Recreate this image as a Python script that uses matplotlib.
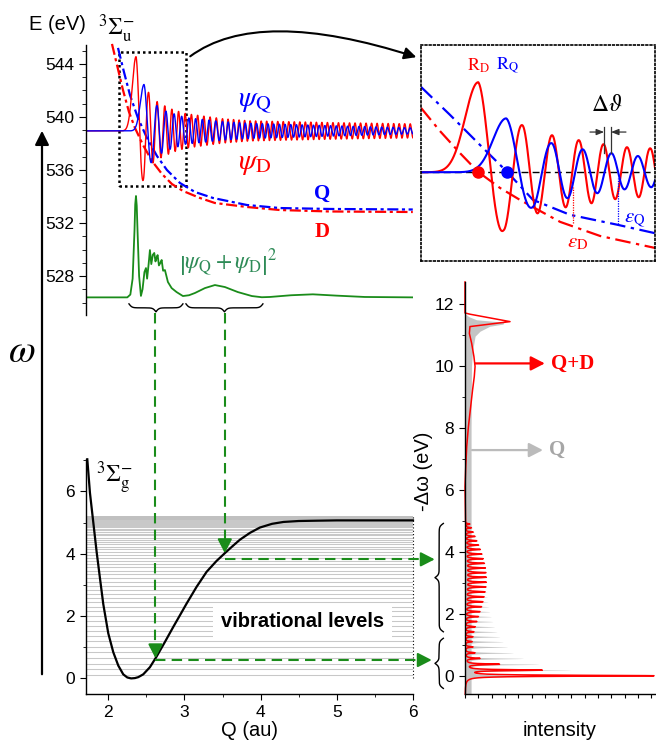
import numpy as np
import matplotlib.pyplot as plt
from matplotlib.patches import FancyArrowPatch, Rectangle
from matplotlib.ticker import MultipleLocator

plt.rcParams['font.family'] = ['Liberation Sans', 'DejaVu Sans']
plt.rcParams['mathtext.fontset'] = 'stix'
plt.rcParams['font.size'] = 12.5
plt.rcParams['axes.linewidth'] = 1.0

RED = '#ff0000'
BLUE = '#0000ff'
GREEN = '#1a8c1a'
GREEN_TXT = '#2e8b57'
GREY = '#c4c4c4'
SERIF = ['Liberation Serif', 'DejaVu Serif']

# ---------------- core-excited state 3Sigma_u (Q in au, E in eV) ----------------
E_RES = 538.95                      # energy of the resonance line
potD_q = [2.049, 2.115, 2.193, 2.272, 2.351, 2.456, 2.574, 2.705, 2.836, 2.980,
          3.203, 3.400, 3.819, 4.252, 4.908, 5.997]
potD_e = [545.51, 543.92, 542.04, 540.38, 539.17, 537.89, 536.68, 535.70, 534.94,
          534.42, 533.89, 533.51, 533.21, 532.98, 532.87, 532.83]
potQ_q = [2.128, 2.206, 2.285, 2.390, 2.508, 2.639, 2.770, 2.941, 3.138, 3.374,
          3.819, 4.252, 4.908, 5.997]
potQ_e = [545.21, 543.40, 541.66, 539.92, 538.42, 537.06, 536.00, 535.02, 534.34,
          533.89, 533.36, 533.13, 533.06, 533.02]

# wave packets: positions of successive extrema (n = number of half periods)
psiD_n = [0, 1, 2, 3, 4, 5, 6, 7, 8, 9, 10, 11, 12, 24, 93]
psiD_q = [2.365, 2.460, 2.530, 2.588, 2.642, 2.693, 2.742, 2.790, 2.835, 2.879,
          2.923, 2.967, 3.010, 3.500, 6.000]
psiQ_n = [0, 1, 2, 3, 4, 5, 6, 7, 8, 9, 20, 87]
psiQ_q = [2.470, 2.568, 2.640, 2.700, 2.757, 2.812, 2.865, 2.914, 2.964, 3.014,
          3.500, 6.000]
# amplitude envelopes (eV) in the main panel
psiD_env_q = [2.365, 2.460, 2.530, 2.590, 2.700, 2.850, 3.020, 3.500, 3.860, 5.000, 6.000]
psiD_env_a = [5.60, 3.70, 2.90, 2.40, 2.00, 1.60, 1.30, 0.92, 0.76, 0.62, 0.53]
psiQ_env_q = [2.470, 2.570, 2.640, 2.750, 3.020, 3.500, 3.860, 5.000, 6.000]
psiQ_env_a = [3.50, 2.35, 1.90, 1.50, 1.00, 0.70, 0.57, 0.38, 0.23]
# amplitude envelopes in the zoomed inset (at the extrema)
psiD_in_env_a = [4.21, 2.71, 2.20, 1.92, 1.73, 1.64, 1.50, 1.45, 1.31, 1.26, 1.17, 1.17, 1.12]
psiQ_in_env_a = [2.52, 1.64, 1.36, 1.21, 1.07, 0.98, 0.89, 0.80, 0.76, 0.70]

# potentials as drawn in the inset
epsD_q = [2.150, 2.221, 2.296, 2.364, 2.446, 2.521, 2.585, 2.672, 2.822, 3.028]
epsD_e = [541.96, 540.88, 539.85, 538.97, 538.22, 537.66, 537.22, 536.63, 535.97, 535.41]
epsQ_q = [2.150, 2.259, 2.371, 2.473, 2.570, 2.709, 2.885, 3.028]
epsQ_e = [542.94, 541.63, 540.23, 538.97, 537.66, 536.96, 536.50, 536.10]
turn_q = [2.364, 2.473]             # R_D, R_Q
mark_q = [2.720, 2.889]             # dotted markers down to eps_D, eps_Q
mark_lo = [536.60, 536.52]
mark_hi = [538.25, 538.68]
dtheta_q = [2.837, 2.863]

# |psi_Q + psi_D|^2
green_q = [1.708, 2.250, 2.290, 2.320, 2.345, 2.354, 2.364, 2.374, 2.385, 2.405, 2.429,
           2.450, 2.475, 2.495, 2.510, 2.530, 2.547, 2.565, 2.585, 2.604, 2.620, 2.635,
           2.648, 2.665, 2.685, 2.701, 2.720, 2.744, 2.783, 2.832, 2.897, 2.980, 3.060,
           3.138, 3.269, 3.400, 3.531, 3.701, 3.885, 4.016, 4.121, 4.400, 4.685, 5.000,
           5.367, 6.000]
green_e = [526.39, 526.39, 526.60, 527.80, 531.50, 533.40, 534.04, 533.30, 531.30, 528.00,
           526.50, 527.00, 528.30, 528.60, 527.80, 528.90, 529.96, 528.90, 529.60, 529.74,
           529.10, 529.40, 529.58, 528.80, 529.00, 529.21, 528.40, 528.45, 527.55, 527.09,
           526.79, 526.49, 526.55, 526.72, 527.09, 527.32, 527.17, 526.79, 526.49, 526.40,
           526.42, 526.55, 526.62, 526.52, 526.42, 526.39]

# ---------------- ground state 3Sigma_g ----------------
morse_q = [1.725, 1.760, 1.804, 1.848, 1.892, 1.935, 2.000, 2.066, 2.132, 2.197, 2.250,
           2.300, 2.350, 2.394, 2.459, 2.547, 2.634, 2.744, 2.853, 2.963, 3.028, 3.160,
           3.291, 3.422, 3.531, 3.630, 3.728, 3.860, 3.990, 4.150, 4.300, 4.500, 4.730,
           5.000, 5.500, 6.000]
morse_e = [7.03, 5.95, 5.00, 4.05, 3.20, 2.38, 1.45, 0.84, 0.41, 0.13, 0.03, 0.00, 0.01,
           0.04, 0.13, 0.36, 0.70, 1.17, 1.65, 2.12, 2.40, 2.94, 3.42, 3.77, 4.02, 4.24,
           4.45, 4.67, 4.84, 4.96, 5.02, 5.05, 5.06, 5.07, 5.07, 5.07]
vib_levels = [0.0975, 0.2896, 0.4780, 0.6626, 0.8435, 1.0206, 1.1939, 1.3635, 1.5293,
              1.6914, 1.8497, 2.0042, 2.1550, 2.3020, 2.4453, 2.5848, 2.7205, 2.8525,
              2.9807, 3.1052, 3.2259, 3.3428, 3.4560, 3.5654, 3.6711, 3.7730, 3.8711,
              3.9655, 4.0561, 4.1430, 4.2261, 4.3054, 4.3810, 4.4528, 4.5209, 4.5852,
              4.6457, 4.7025, 4.7555, 4.8048, 4.8503, 4.8920, 4.9300, 4.9642, 4.9947,
              5.0214, 5.0443, 5.0635, 5.0789, 5.0906, 5.0985, 5.1027]
arrow_q = [2.62, 3.53]              # green arrows from the two braces
arrow_level = [0.59, 3.82]
arrow_end_q = [6.246, 6.285]

# ---------------- RIXS spectra (energy loss in eV, intensity in arb. units) ----------------
spec_e = [0.00, 0.18, 0.37, 0.56, 0.74, 0.93, 1.10, 1.26, 1.42, 1.58, 1.75, 1.91, 2.07,
          2.23, 2.39, 2.55, 2.71, 2.87, 3.02, 3.18, 3.33, 3.48, 3.63, 3.78, 3.93, 4.08,
          4.22, 4.36, 4.50, 4.64, 4.78, 4.90]
gray_peak = [0.60, 0.544, 0.377, 0.298, 0.246, 0.216, 0.193, 0.175, 0.161, 0.149, 0.140,
             0.132, 0.125, 0.120, 0.116, 0.113, 0.111, 0.110, 0.108, 0.105, 0.102, 0.099,
             0.095, 0.091, 0.086, 0.080, 0.073, 0.065, 0.056, 0.046, 0.036, 0.025]
red_peak = [0.991, 0.395, 0.175, 0.075, 0.050, 0.040, 0.036, 0.040, 0.045, 0.052, 0.060,
            0.068, 0.076, 0.084, 0.091, 0.097, 0.102, 0.106, 0.108, 0.108, 0.106, 0.103,
            0.098, 0.092, 0.085, 0.077, 0.068, 0.059, 0.050, 0.041, 0.032, 0.024]
GAM = 0.018
BAND = 0.032
gray_cont_e = [5.00, 8.00, 10.00, 10.50, 10.97, 11.13, 11.29, 11.36, 11.42, 11.50, 11.60,
               11.70, 12.72]
gray_cont_i = [0.032, 0.032, 0.034, 0.040, 0.053, 0.079, 0.130, 0.200, 0.205, 0.060, 0.020,
               0.0, 0.0]
red_cont_e = [5.00, 6.10, 6.76, 7.40, 8.05, 8.69, 9.24, 9.67, 9.99, 10.31, 10.74, 11.06,
              11.28, 11.36, 11.44, 11.56, 11.68, 11.72, 12.72]
red_cont_i = [0.003, 0.0, 0.004, 0.009, 0.018, 0.030, 0.040, 0.049, 0.053, 0.047, 0.035,
              0.023, 0.026, 0.130, 0.237, 0.130, 0.026, 0.0, 0.0]

Q_LIM = (1.708, 6.0)
IN_Q = (2.15, 3.028)
IN_E = (534.8, 544.9)


def wave(q, ext_n, ext_q, env_q, env_a, width=0.07):
    phase = np.pi * np.interp(q, ext_q, ext_n)
    psi = np.interp(q, env_q, env_a) * np.cos(phase)
    left = q < ext_q[0]
    psi[left] = env_a[0] * np.exp(-((ext_q[0] - q[left]) / width) ** 2)
    return psi


def brace(a0, a1, base, depth, k):
    u = np.linspace(0.0, 1.0, 401)
    w = np.minimum(u, 1.0 - u)
    s = 1 / (1 + np.exp(-k * w)) + 1 / (1 + np.exp(-k * (w - 0.5))) - 0.5
    return a0 + (a1 - a0) * u, base + depth * s


W, H = 656, 745
def fx(x): return x / W
def fy(y): return 1 - y / H
def box(x0, y0, x1, y1): return [fx(x0), fy(y1), (x1 - x0) / W, (y1 - y0) / H]


fig = plt.figure(figsize=(6.56, 7.45), dpi=100)
ax_top = fig.add_axes(box(86, 45, 413, 315))
ax_in = fig.add_axes(box(421, 45, 655, 261))
ax_bot = fig.add_axes(box(86, 459.3, 413, 694.3))
ax_sp = fig.add_axes(box(465, 282, 655, 694))
for a in (ax_top, ax_in, ax_bot, ax_sp):
    a.patch.set_alpha(0)

# ================= top panel =================
q = np.linspace(Q_LIM[0], Q_LIM[1], 6000)
dashdot = (0, (5, 1.6, 1.4, 1.6))
ax_top.plot(potD_q, potD_e, color=RED, lw=1.6, ls=dashdot, clip_on=False)
ax_top.plot(potQ_q, potQ_e, color=BLUE, lw=1.6, ls=dashdot, clip_on=False)
ax_top.plot(q, E_RES + wave(q, psiD_n, psiD_q, psiD_env_q, psiD_env_a), color=RED, lw=1.0)
ax_top.plot(q, E_RES + wave(q, psiQ_n, psiQ_q, psiQ_env_q, psiQ_env_a), color=BLUE, lw=1.0)
ax_top.plot(green_q, green_e, color=GREEN, lw=1.3)
ax_top.add_patch(Rectangle((IN_Q[0] - 0.01, IN_E[0]), IN_Q[1] - IN_Q[0], IN_E[1] - IN_E[0],
                           fill=False, ls=(0, (1, 1.2)), lw=1.8, clip_on=False))
for a0, a1, k in [(2.272, 2.98, 36), (3.02, 4.03, 51)]:
    bq, be = brace(a0, a1, 525.9, -0.6, k)
    ax_top.plot(bq, be, color='k', lw=1.0, clip_on=False)

ax_top.text(3.924, 541.1, r'$\psi_{\mathrm{Q}}$', color=BLUE, fontsize=21, ha='center', va='center')
ax_top.text(3.924, 536.5, r'$\psi_{\mathrm{D}}$', color=RED, fontsize=21, ha='center', va='center')
ax_top.text(4.81, 534.2, 'Q', color=BLUE, fontsize=15, fontweight='bold', family=SERIF,
            ha='center', va='center')
ax_top.text(4.81, 531.3, 'D', color=RED, fontsize=15, fontweight='bold', family=SERIF,
            ha='center', va='center')
ax_top.text(3.57, 529.0, r'$\left|\psi_{\mathrm{Q}}+\psi_{\mathrm{D}}\right|^{2}$',
            color=GREEN_TXT, fontsize=17, ha='center', va='center')

ax_top.set_xlim(*Q_LIM)
ax_top.set_ylim(525.06, 545.43)
ax_top.set_xticks([])
ax_top.yaxis.set_major_locator(MultipleLocator(4))
ax_top.yaxis.set_minor_locator(MultipleLocator(1))
for s in ('top', 'right', 'bottom'):
    ax_top.spines[s].set_visible(False)
ax_top.tick_params(axis='y', which='major', direction='out', length=5, labelsize=12.5)
ax_top.tick_params(axis='y', which='minor', direction='out', length=3)

# ================= inset =================
qi = np.linspace(IN_Q[0], IN_Q[1], 3000)
ax_in.axhline(E_RES, color='k', lw=1.0, dashes=(5, 3), zorder=1)
dd_in = (0, (7, 2.5, 1.5, 2.5))
ax_in.plot(epsD_q, epsD_e, color=RED, lw=1.6, ls=dd_in)
ax_in.plot(epsQ_q, epsQ_e, color=BLUE, lw=1.6, ls=dd_in)
ax_in.plot(qi, E_RES + wave(qi, psiD_n, psiD_q, psiD_q[:13], psiD_in_env_a), color=RED, lw=1.5)
ax_in.plot(qi, E_RES + wave(qi, psiQ_n, psiQ_q, psiQ_q[:10], psiQ_in_env_a), color=BLUE, lw=1.5)
for tq, c in zip(turn_q, (RED, BLUE)):
    ax_in.plot(tq, E_RES, 'o', color=c, ms=8, zorder=5)
for mq, lo, hi, c in zip(mark_q, mark_lo, mark_hi, (RED, BLUE)):
    ax_in.plot([mq, mq], [lo, hi], color=c, lw=0.9, ls=(0, (1, 1)))
for dq in dtheta_q:
    ax_in.plot([dq, dq], [539.85, 541.07], color='#333333', lw=0.9)
ax_in.annotate('', xy=(dtheta_q[0], 540.83), xytext=(2.784, 540.83),
               arrowprops=dict(arrowstyle='-|>,head_length=0.5,head_width=0.2', color='#333333',
                               lw=0.9, mutation_scale=9, shrinkA=0, shrinkB=0))
ax_in.annotate('', xy=(dtheta_q[1], 540.83), xytext=(2.919, 540.83),
               arrowprops=dict(arrowstyle='-|>,head_length=0.5,head_width=0.2', color='#333333',
                               lw=0.9, mutation_scale=9, shrinkA=0, shrinkB=0))
ax_in.text(2.848, 542.1, r'$\Delta\vartheta$', fontsize=17, ha='center', va='center')
ax_in.text(turn_q[0], 543.95, r'$\mathrm{R}_{\mathrm{D}}$', color=RED, fontsize=13,
           ha='center', va='center')
ax_in.text(turn_q[1], 543.95, r'$\mathrm{R}_{\mathrm{Q}}$', color=BLUE, fontsize=13,
           ha='center', va='center')
ax_in.text(2.953, 536.72, r'$\varepsilon_{\mathrm{Q}}$', color=BLUE, fontsize=15,
           ha='center', va='center')
ax_in.text(2.737, 535.65, r'$\varepsilon_{\mathrm{D}}$', color=RED, fontsize=15,
           ha='center', va='center')
ax_in.set_xlim(*IN_Q)
ax_in.set_ylim(*IN_E)
ax_in.set_xticks([])
ax_in.set_yticks([])
for s in ax_in.spines.values():
    s.set_linestyle((0, (1, 1.5)))
    s.set_linewidth(1.2)

# ================= ground state panel =================
for e in vib_levels:
    ax_bot.axhline(e, color='#c8c8c8', lw=0.75, zorder=1)
ax_bot.axhspan(5.07, 5.22, color='#c0c0c0', lw=0, zorder=1)
ax_bot.plot(morse_q, morse_e, color='k', lw=1.6, zorder=3, clip_on=False)
ax_bot.plot([Q_LIM[1], Q_LIM[1]], [0, 5.22], color='k', lw=0.8, ls=(0, (1, 2)), clip_on=False)
ax_bot.text(4.55, 1.82, 'vibrational levels', fontsize=14.5, fontweight='bold', ha='center',
            va='center', zorder=4,
            bbox=dict(boxstyle='square,pad=0.4', facecolor='white', edgecolor='none'))
ax_bot.text(2.088, 6.43, r'$^{3}\Sigma_{\mathrm{g}}^{-}$', fontsize=17, ha='center', va='center')

arrow_tip = np.interp(arrow_q, morse_q, morse_e)
head = dict(arrowstyle='-|>,head_length=0.7,head_width=0.36', color=GREEN, lw=1.5,
            mutation_scale=12, shrinkA=0, shrinkB=0)
for aq, tip, lev, endq in zip(arrow_q, arrow_tip, arrow_level, arrow_end_q):
    ax_bot.plot([aq, aq], [11.73, tip + 0.3], color=GREEN, lw=1.5, dashes=(5, 3),
                clip_on=False, zorder=5)
    ax_bot.annotate('', xy=(aq, tip), xytext=(aq, tip + 0.4), arrowprops=head,
                    annotation_clip=False, zorder=6)
    ax_bot.plot([aq, endq - 0.12], [lev, lev], color=GREEN, lw=1.5, dashes=(5, 3),
                clip_on=False, zorder=5)
    ax_bot.annotate('', xy=(endq, lev), xytext=(endq - 0.16, lev), arrowprops=head,
                    annotation_clip=False, zorder=6)

ax_bot.set_xlim(*Q_LIM)
ax_bot.set_ylim(-0.51, 7.03)
ax_bot.xaxis.set_major_locator(MultipleLocator(1))
ax_bot.xaxis.set_minor_locator(MultipleLocator(0.5))
ax_bot.yaxis.set_major_locator(MultipleLocator(2))
ax_bot.yaxis.set_minor_locator(MultipleLocator(1))
for s in ('top', 'right'):
    ax_bot.spines[s].set_visible(False)
ax_bot.tick_params(which='major', direction='out', length=4.5, labelsize=12.5)
ax_bot.tick_params(which='minor', direction='out', length=2.5)
ax_bot.set_xlabel('Q (au)', fontsize=14.5)
ax_bot.xaxis.set_label_coords(0.5, -0.115)

# ================= spectrum panel =================
E_st = np.linspace(-0.59, 4.95, 5000)


def sticks(heights):
    out = np.zeros_like(E_st)
    for e0, h in zip(spec_e, heights):
        out += h * GAM ** 2 / ((E_st - e0) ** 2 + GAM ** 2)
    return out


gray_E = np.concatenate([E_st, gray_cont_e])
gray_I = np.concatenate([np.maximum(sticks(gray_peak), BAND), gray_cont_i])
red_E = np.concatenate([E_st, red_cont_e])
red_I = np.concatenate([sticks(red_peak), red_cont_i])
ax_sp.fill_betweenx(gray_E, 0, gray_I, color=GREY, lw=0)
ax_sp.plot(red_I, red_E, color=RED, lw=1.1, clip_on=False)

ax_sp.annotate('', xy=(0.42, 10.09), xytext=(0.053, 10.09),
               arrowprops=dict(arrowstyle='-|>,head_length=0.7,head_width=0.36', color=RED,
                               lw=1.6, mutation_scale=12, shrinkA=0, shrinkB=0))
ax_sp.text(0.455, 10.09, 'Q+D', color=RED, fontsize=15, fontweight='bold', family=SERIF,
           ha='left', va='center')
ax_sp.annotate('', xy=(0.41, 7.29), xytext=(0.037, 7.29),
               arrowprops=dict(arrowstyle='-|>,head_length=0.7,head_width=0.36', color='#bbbbbb',
                               lw=1.6, mutation_scale=12, shrinkA=0, shrinkB=0))
ax_sp.text(0.44, 7.29, 'Q', color='#a6a6a6', fontsize=15, fontweight='bold', family=SERIF,
           ha='left', va='center')
for e0, e1, k in [(4.92, 1.42, 72), (1.21, -0.41, 33)]:
    be, bi = brace(e0, e1, -0.114, -0.044, k)
    ax_sp.plot(bi, be, color='k', lw=1.0, clip_on=False)

ax_sp.set_xlim(0, 1)
ax_sp.set_ylim(-0.59, 12.72)
ax_sp.set_xticks(np.arange(0, 0.99, 0.07))
ax_sp.set_xticklabels([])
ax_sp.yaxis.set_major_locator(MultipleLocator(2))
ax_sp.yaxis.set_minor_locator(MultipleLocator(1))
for s in ('top', 'right'):
    ax_sp.spines[s].set_visible(False)
ax_sp.tick_params(axis='x', direction='out', length=3)
ax_sp.tick_params(axis='y', which='major', direction='out', length=4.5, labelsize=12.5)
ax_sp.tick_params(axis='y', which='minor', direction='out', length=2.5)
ax_sp.set_xlabel('intensity', fontsize=14.5)
ax_sp.xaxis.set_label_coords(0.5, -0.066)
ax_sp.set_ylabel('-Δω (eV)', fontsize=14.5)
ax_sp.yaxis.set_label_coords(-0.17, 0.541)

# ================= figure-level decorations =================
fig.text(fx(57), fy(25), 'E (eV)', fontsize=14.5, ha='center', va='center')
fig.text(fx(117), fy(29), r'$^{3}\Sigma_{\mathrm{u}}^{-}$', fontsize=17, ha='center', va='center')
fig.text(fx(22), fy(352), r'$\omega$', fontsize=28, ha='center', va='center')
fig.add_artist(FancyArrowPatch((fx(42), fy(677)), (fx(42), fy(128)), transform=fig.transFigure,
                               arrowstyle='-|>,head_length=0.6,head_width=0.3',
                               mutation_scale=14, lw=1.6, color='k'))
fig.add_artist(FancyArrowPatch((fx(188), fy(58)), (fx(419), fy(58)), transform=fig.transFigure,
                               connectionstyle='angle3,angleA=38,angleB=-18',
                               arrowstyle='-|>,head_length=0.6,head_width=0.3',
                               mutation_scale=12, lw=1.5, color='k'))

fig.savefig('out.png', dpi=100)
